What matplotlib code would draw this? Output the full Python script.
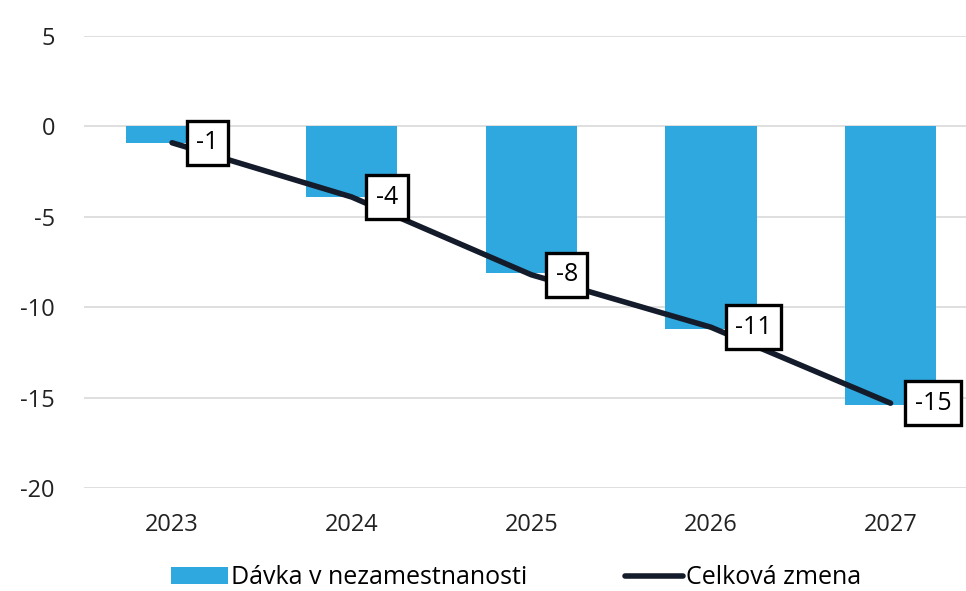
import matplotlib.pyplot as plt
import numpy as np

plt.rcParams['font.family'] = ['Open Sans', 'DejaVu Sans']
plt.rcParams['axes.unicode_minus'] = False

# údaje
roky = ['2023', '2024', '2025', '2026', '2027']
davka = [-0.9, -3.9, -8.1, -11.2, -15.4]
celkova_zmena = [-0.9, -3.9, -8.2, -11.1, -15.3]
popisky = ['-1', '-4', '-8', '-11', '-15']

fig = plt.figure(figsize=(9.66, 5.91), dpi=100)
ax = fig.add_axes([0.087, 0.174, 0.913, 0.765])

x = np.arange(len(roky))
stlpce = ax.bar(x, davka, width=0.51, color='#2ea8df', label='Dávka v nezamestnanosti', zorder=2)
ciara, = ax.plot(x, celkova_zmena, color='#141c2b', linewidth=4, solid_capstyle='round',
                 label='Celková zmena', zorder=3)

# popisky hodnôt v rámčekoch
for xi, yi, txt in zip(x, celkova_zmena, popisky):
    ax.annotate(txt, (xi, yi), xytext=(17.5, 0), textcoords='offset points',
                ha='left', va='center', fontsize=18, color='black', zorder=4,
                bbox=dict(boxstyle='square,pad=0.38', facecolor='white',
                          edgecolor='black', linewidth=2.4))

ax.set_ylim(-20, 5)
ax.set_yticks([5, 0, -5, -10, -15, -20])
ax.set_xlim(-0.49, 4.42)
ax.set_xticks(x)
ax.set_xticklabels(roky)
ax.yaxis.grid(True, color='#d9d9d9', linewidth=1.2, zorder=0)
ax.set_axisbelow(True)
for s in ax.spines.values():
    s.set_visible(False)
ax.tick_params(axis='both', length=0, labelsize=17, colors='#222222')
ax.tick_params(axis='y', pad=21)
ax.tick_params(axis='x', pad=18)

fig.legend([stlpce, ciara], ['Dávka v nezamestnanosti', 'Celková zmena'],
           loc='center', bbox_to_anchor=(0.534, 0.022), ncol=2, frameon=False,
           fontsize=18, handlelength=2.3, handletextpad=0.12, columnspacing=3.9)

fig.savefig('out.png', dpi=100)
